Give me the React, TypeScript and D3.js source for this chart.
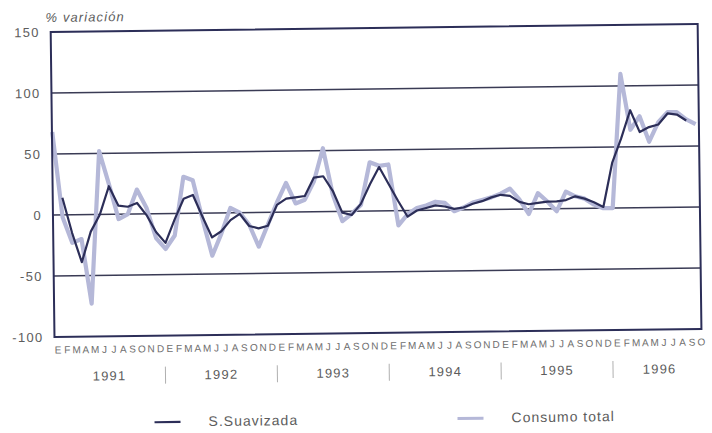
import React from "react";
import * as d3 from "d3";

const MONTHS = ["E", "F", "M", "A", "M", "J", "J", "A", "S", "O", "N", "D"];
const YEARS = ["1991", "1992", "1993", "1994", "1995", "1996"];
const Y_TICKS = [150, 100, 50, 0, -50, -100];
const GRID_LINES = [100, 50, 0, -50];

// Consumo total (% variación), monthly Jan 1991 – Oct 1996
const CONSUMO = [
  68, -2, -23, -20, -73, 52, 25, -4, 0, 20, 5, -20,
  -29, -18, 30, 27, -5, -35, -17, 4, 0, -10, -28, -10,
  8, 24, 7, 10, 25, 52, 14, -8, -2, 5, 40, 37,
  38, -12, -3, 2, 4, 7, 6, -1, 2, 6, 8, 10,
  13, 17, 8, -4, 13, 6, -2, 14, 10, 8, 3, 0,
  0, 110, 64, 75, 54, 70, 78, 78, 72, 68,
];

// S.Suavizada (smoothed series), starts Feb 1991, ends Sep 1996
const SUAVIZADA: (number | null)[] = [
  null, 14, -15, -39, -14, 0, 23, 7, 6, 9, -1, -15,
  -24, -5, 12, 15, -3, -20, -15, -6, -1, -11, -13, -11,
  6, 11, 12, 13, 28, 29, 17, -1, -3, 6, 22, 36,
  22, 8, -5, 0, 2, 4, 3, 1, 2, 5, 7, 10,
  12, 11, 6, 4, 5, 6, 6, 7, 10, 8, 5, 1,
  37, 57, 80, 62, 66, 68, 77, 76, 71, null,
];

const LEGEND = ["S.Suavizada", "Consumo total"];

const W = 712;
const H = 433;
const L = 53;
const R = 700;
const T = 28;
const B = 333;

const DARK = "#2c2e58";
const LIGHT = "#b5b8d8";
const TEXT = "#5c5c5c";
const FONT = "'Liberation Sans', Arial, Helvetica, sans-serif";

export default function App() {
  const n = CONSUMO.length;
  const x = d3.scaleLinear().domain([0, n - 1]).range([53.3, 696.7]);
  const y = d3.scaleLinear().domain([-100, 150]).range([B, T]);

  const monthLabels = YEARS.flatMap(() => MONTHS).slice(0, n);

  const line = d3
    .line<number | null>()
    .defined((d) => d !== null)
    .x((_, i) => x(i))
    .y((d) => y(d as number));

  const labelOffset = 3;

  return (
    <svg
      width={W}
      height={H}
      style={{ position: "absolute", left: 0, top: 0, background: "#fff" }}
      fontFamily={FONT}
    >
      <rect x={0} y={0} width={W} height={H} fill="#fff" />
      <g transform="rotate(-0.71, 376, 216)">
        <text
          x={48}
          y={18}
          fontSize={13}
          fontStyle="italic"
          fill={TEXT}
          letterSpacing={1.1}
        >
          % variación
        </text>

        {GRID_LINES.map((v) => (
          <line
            key={v}
            x1={L}
            x2={R}
            y1={y(v)}
            y2={y(v)}
            stroke="#3a3b55"
            strokeWidth={1.5}
          />
        ))}

        {Y_TICKS.map((v) => (
          <text
            key={v}
            x={42}
            y={y(v)}
            dy="0.36em"
            textAnchor="end"
            fontSize={13}
            fill={TEXT}
            letterSpacing={1.3}
          >
            {v}
          </text>
        ))}

        <path
          d={line(CONSUMO) || ""}
          fill="none"
          stroke={LIGHT}
          strokeWidth={4.2}
          strokeLinejoin="round"
        />
        <path
          d={line(SUAVIZADA) || ""}
          fill="none"
          stroke={DARK}
          strokeWidth={2.2}
          strokeLinejoin="round"
        />

        <rect
          x={L}
          y={T}
          width={R - L}
          height={B - T}
          fill="none"
          stroke={DARK}
          strokeWidth={2}
        />

        {monthLabels.map((m, i) => (
          <text
            key={i}
            x={x(i) + labelOffset}
            y={349.5}
            textAnchor="middle"
            fontSize={10}
            fill="#6e6e6e"
          >
            {m}
          </text>
        ))}

        {YEARS.map((yr, k) => {
          const start = k * 12;
          const count = Math.min(12, n - start);
          const cx = x(start + (count - 1) / 2) + labelOffset;
          return (
            <text
              key={yr}
              x={cx}
              y={377}
              textAnchor="middle"
              fontSize={13}
              fill={TEXT}
              letterSpacing={1.2}
            >
              {yr}
            </text>
          );
        })}
        {YEARS.slice(1).map((yr, k) => {
          const sx = x((k + 1) * 12 - 0.5) + labelOffset;
          return (
            <line
              key={"sep" + yr}
              x1={sx}
              x2={sx}
              y1={364}
              y2={381}
              stroke="#b0b0b0"
              strokeWidth={1}
            />
          );
        })}

        <line x1={152} x2={178} y1={419.5} y2={419.5} stroke={DARK} strokeWidth={2.2} />
        <text x={206} y={424} fontSize={14} fill={TEXT} letterSpacing={1}>
          {LEGEND[0]}
        </text>
        <line x1={455} x2={481} y1={419.5} y2={419.5} stroke={LIGHT} strokeWidth={3} />
        <text x={509} y={424} fontSize={14} fill={TEXT} letterSpacing={1}>
          {LEGEND[1]}
        </text>
      </g>
    </svg>
  );
}
